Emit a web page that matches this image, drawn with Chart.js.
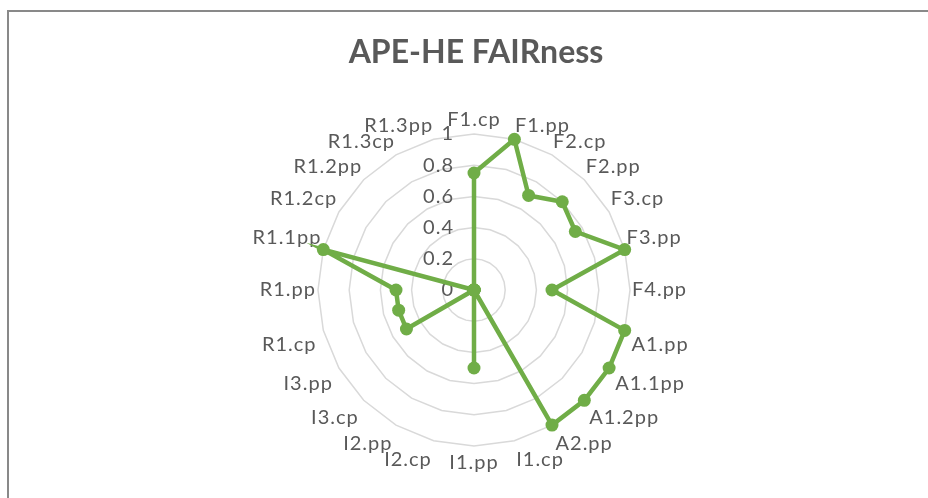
<!DOCTYPE html>
<html>
<head>
<meta charset="utf-8">
<script src="https://cdn.jsdelivr.net/npm/chart.js@4.4.0/dist/chart.umd.min.js"></script>
<style>
  html, body { margin: 0; padding: 0; background: #fff; }
  #wrap { width: 928px; height: 498px; position: relative; }
</style>
</head>
<body>
<div id="wrap"><canvas id="myChart"></canvas></div>
<script>
// 축 라벨 (시계 방향, 위에서 시작)
const labels = ['F1.cp', 'F1.pp', 'F2.cp', 'F2.pp', 'F3.cp', 'F3.pp', 'F4.pp',
    'A1.pp', 'A1.1pp', 'A1.2pp', 'A2.pp',
    'I1.cp', 'I1.pp', 'I2.cp', 'I2.pp', 'I3.cp', 'I3.pp',
    'R1.cp', 'R1.pp', 'R1.1pp', 'R1.2cp', 'R1.2pp', 'R1.3cp', 'R1.3pp'];
// 값
const fairness = [0.75, 1, 0.7, 0.8, 0.75, 1, 0.5,
    1, 1, 1, 1,
    0, 0.5, 0, 0, 0, 0.5,
    0.5, 0.5, 1, 0, 0, 0, 0];
const tickValues = [0, 0.2, 0.4, 0.6, 0.8, 1];
const tickLabels = ['0', '0.2', '0.4', '0.6', '0.8', '1'];
const chartTitle = 'APE-HE FAIRness';

const textColor = '#595959';
const green = '#70ad47';

// 테두리, 제목, 눈금 라벨
const frameAndTicks = {
    id: 'frameAndTicks',
    beforeDraw(chart) {
        const ctx = chart.ctx;
        ctx.save();
        ctx.strokeStyle = '#898989';
        ctx.lineWidth = 2;
        ctx.beginPath();
        ctx.moveTo(8, chart.height);
        ctx.lineTo(8, 11);
        ctx.lineTo(chart.width, 11);
        ctx.stroke();

        ctx.letterSpacing = '0px';
        ctx.font = 'bold 32px Lato';
        ctx.fillStyle = textColor;
        ctx.textAlign = 'center';
        ctx.textBaseline = 'middle';
        ctx.fillText(chartTitle, 476, 53);
        ctx.restore();
        // 라벨 글자 간격 (엑셀처럼 살짝 넓게)
        ctx.letterSpacing = '1px';
    },
    beforeDatasetsDraw(chart) {
        const scale = chart.scales.r;
        const ctx = chart.ctx;
        ctx.save();
        ctx.letterSpacing = '1px';
        ctx.font = '20px Lato';
        ctx.fillStyle = textColor;
        ctx.textAlign = 'right';
        ctx.textBaseline = 'middle';
        tickValues.forEach((v, i) => {
            const d = scale.getDistanceFromCenterForValue(v);
            ctx.fillText(tickLabels[i], scale.xCenter - 20, scale.yCenter - d);
        });
        ctx.restore();
    },
    afterDraw(chart) {
        chart.ctx.letterSpacing = '0px';
    }
};

const ctx = document.getElementById('myChart').getContext('2d');
const myChart = new Chart(ctx, {
    type: 'radar',
    data: {
        labels: labels,
        datasets: [{
            label: 'FAIRness',
            data: fairness,
            borderColor: green,
            backgroundColor: green,
            fill: false,
            borderWidth: 4.5,
            pointRadius: 6.5,
            pointBackgroundColor: green,
            pointBorderColor: green,
            pointBorderWidth: 0,
            tension: 0
        }]
    },
    options: {
        responsive: true,
        maintainAspectRatio: false,
        animation: false,
        layout: {
            padding: { left: 20, right: 0, top: 107, bottom: 21 }
        },
        plugins: {
            legend: { display: false },
            tooltip: { enabled: false },
            title: { display: false }
        },
        scales: {
            r: {
                min: 0,
                max: 1,
                ticks: { stepSize: 0.2, display: false },
                angleLines: { display: false },
                grid: { color: '#d9d9d9', lineWidth: 1.5 },
                pointLabels: {
                    color: textColor,
                    // 아래쪽 라벨은 조금 더 떨어져 있음
                    padding: (c) => c.index === 12 ? 5 : (c.index >= 7 && c.index <= 17 ? 7 : 2),
                    font: { family: 'Lato', size: 20 }
                }
            }
        }
    },
    plugins: [frameAndTicks]
});
</script>
</body>
</html>
